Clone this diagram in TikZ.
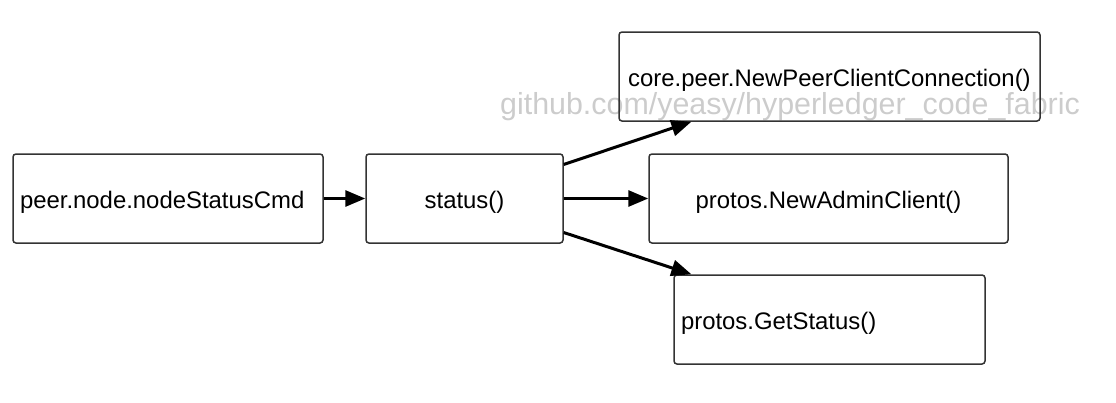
\documentclass[tikz,border=0pt]{standalone}
\usepackage{fontspec}
\setmainfont{Liberation Sans}
\usepackage{tikz}
\usepackage{xcolor}
\usetikzlibrary{positioning, calc, arrows.meta}

\definecolor{boxline}{HTML}{333333}
\definecolor{markgray}{HTML}{CCCCCC}

\begin{document}
\begin{tikzpicture}[x=1pt,y=-1pt,
    box/.style={draw=boxline, line width=1.5pt, rounded corners=3pt, inner sep=0pt, minimum height=89pt, text height=22pt, text depth=3pt, font=\fontsize{23.9}{28}\selectfont},
    leftbox/.style={box, inner xsep=7pt, align=left},
    arr/.style={line width=3pt, -{Triangle[length=20pt,width=16pt]}}]
        \useasboundingbox (0,0) rectangle (1116,402);
        \node[anchor=base, text=markgray, font=\fontsize{30.4}{34}\selectfont] (wm) at (790,114) {github.com/yeasy/hyperledger\_code\_fabric};
        \node[leftbox, text width=296pt] (cmd) at (168,198.5) {peer.node.nodeStatusCmd};
        \node[box, minimum width=197pt] (status) at (464.5,198.5) {status()};
        \node[box, minimum width=421pt] (conn) at (829.5,76.5) {core.peer.NewPeerClientConnection()};
        \node[box, minimum width=359pt] (admin) at (828.5,198.5) {protos.NewAdminClient()};
        \node[leftbox, text width=297pt] (getst) at (829.5,319.5) {protos.GetStatus()};
        \draw[arr] (cmd) -- (status);
        \draw[arr] ($(status.north east)!0.124!(status.south east)$) -- ($(conn.south west)!0.173!(conn.south east)$);
        \draw[arr] (status) -- (admin);
        \draw[arr] ($(status.north east)!0.876!(status.south east)$) -- ($(getst.north west)!0.058!(getst.north east)$);
    \end{tikzpicture}
\end{document}
